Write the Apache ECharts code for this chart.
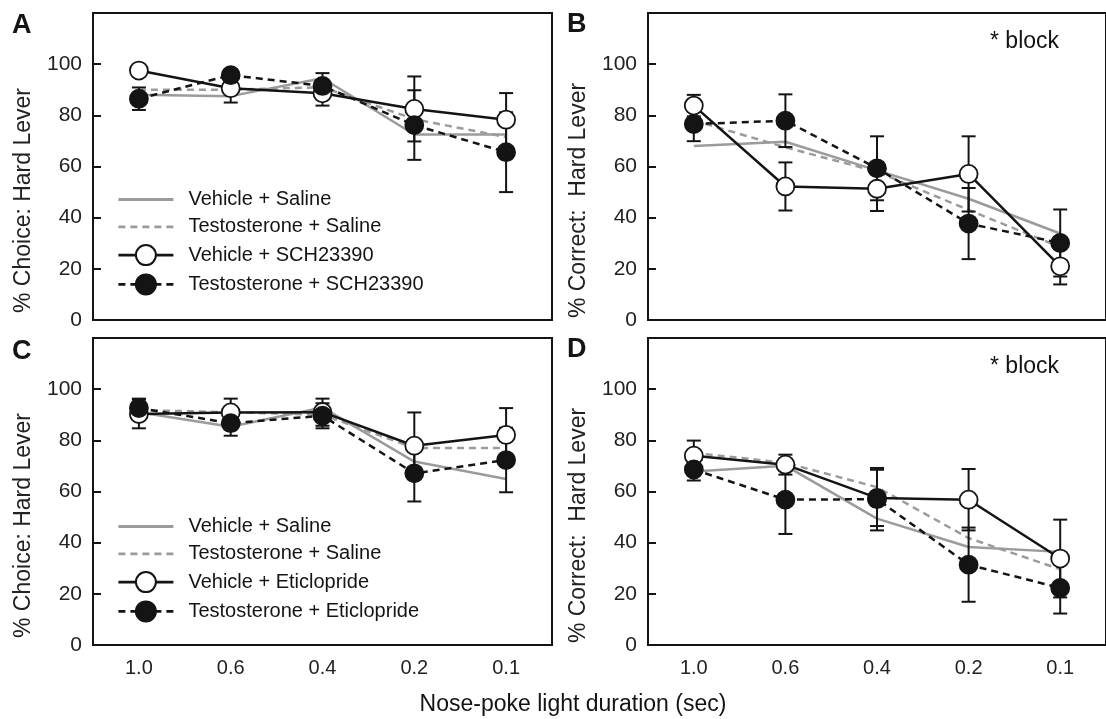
<!DOCTYPE html>
<html><head><meta charset="utf-8">
<script src="https://cdn.jsdelivr.net/npm/echarts@6/dist/echarts.min.js"></script>
<style>html,body{margin:0;padding:0;background:#fff}#c{width:1106px;height:719px}</style>
</head><body><div id="c"></div>
<script>
// ---- categories / tick labels ----
const categories = ['1.0', '0.6', '0.4', '0.2', '0.1'];
const yTicks = [0, 20, 40, 60, 80, 100];

// ---- Panel A: % Choice (SCH23390) ----
const aVehSaline   = [88, 87.5, 94.5, 72.5, 72.5];
const aTestoSaline = [90, 90, 91, 78.5, 71.5];
const aVehSCH      = [97.5, 90.6, 88.6, 82.5, 78.3];
const aTestoSCH    = [86.5, 95.7, 91.5, 76.2, 65.6];
const aVehSCHErr   = [2, 5.6, 4.8, 12.7, 10.4];
const aTestoSCHErr = [4.4, 2, 5, 13.6, 15.6];

// ---- Panel B: % Correct (SCH23390) ----
const bVehSaline   = [68, 69.7, 58.5, 47.4, 33.8];
const bTestoSaline = [78, 67.5, 58, 43, 28.5];
const bVehSCH      = [83.8, 52.2, 51.3, 57.1, 21];
const bTestoSCH    = [76.6, 77.9, 59.3, 37.7, 30.1];
const bVehSCHErr   = [4.2, 9.4, 8.7, 14.7, 7.1];
const bTestoSCHErr = [6.7, 10.3, 12.5, 13.9, 13.1];

// ---- Panel C: % Choice (Eticlopride) ----
const cVehSaline   = [91, 85.3, 92.8, 71.7, 64.9];
const cTestoSaline = [91.8, 91, 90, 77, 77];
const cVehEti      = [90.3, 90.9, 91, 77.9, 82.1];
const cTestoEti    = [92.6, 86.7, 89.6, 67.1, 72.3];
const cVehEtiErr   = [5.6, 5.4, 5.3, 13, 10.5];
const cTestoEtiErr = [3.7, 4.9, 4.9, 11, 12.6];

// ---- Panel D: % Correct (Eticlopride) ----
const dVehSaline   = [67.8, 70.1, 49.4, 38.3, 36.4];
const dTestoSaline = [75.1, 71.2, 61.7, 41.8, 29.6];
const dVehEti      = [74, 70.5, 57.5, 56.8, 33.8];
const dTestoEti    = [68.6, 56.8, 57, 31.4, 22.3];
const dVehEtiErr   = [5.9, 3.9, 11, 12, 15.2];
const dTestoEtiErr = [4.3, 13.4, 12.2, 14.5, 10];

const namesSCH = ['Vehicle + Saline', 'Testosterone + Saline', 'Vehicle + SCH23390', 'Testosterone + SCH23390'];
const namesEti = ['Vehicle + Saline', 'Testosterone + Saline', 'Vehicle + Eticlopride', 'Testosterone + Eticlopride'];

const FONT = '"Liberation Sans", Arial, Helvetica, sans-serif';
const INK = '#141414';
const GRAY = '#9b9b9b';

const grids = [
  {left: 93, top: 13, width: 459, height: 307},
  {left: 648, top: 13, width: 458, height: 307},
  {left: 93, top: 338, width: 459, height: 307},
  {left: 648, top: 338, width: 458, height: 307}
];

function errSeries(gi, vals, errs) {
  return {
    type: 'custom', xAxisIndex: gi, yAxisIndex: gi, z: 3, silent: true,
    data: vals.map((v, i) => [i, v, errs[i]]),
    encode: {x: 0, y: 1},
    renderItem: (params, api) => {
      const i = api.value(0), v = api.value(1), e = api.value(2);
      const t = api.coord([i, v + e]), b = api.coord([i, v - e]);
      const hw = 7;
      const st = {stroke: INK, lineWidth: 2};
      return {type: 'group', children: [
        {type: 'line', shape: {x1: t[0], y1: t[1], x2: b[0], y2: b[1]}, style: st},
        {type: 'line', shape: {x1: t[0] - hw, y1: t[1], x2: t[0] + hw, y2: t[1]}, style: st},
        {type: 'line', shape: {x1: b[0] - hw, y1: b[1], x2: b[0] + hw, y2: b[1]}, style: st}
      ]};
    }
  };
}

function panelSeries(gi, names, vs, ts, vd, td, vdErr, tdErr) {
  const base = {type: 'line', xAxisIndex: gi, yAxisIndex: gi, animation: false};
  return [
    Object.assign({}, base, {name: names[0], data: vs, symbol: 'none', z: 2,
      lineStyle: {color: GRAY, width: 2.5, type: 'solid'}, itemStyle: {color: GRAY}}),
    Object.assign({}, base, {name: names[1], data: ts, symbol: 'none', z: 2,
      lineStyle: {color: GRAY, width: 2.5, type: [7, 5]}, itemStyle: {color: GRAY}}),
    errSeries(gi, vd, vdErr),
    errSeries(gi, td, tdErr),
    Object.assign({}, base, {name: names[2], data: vd, symbol: 'circle', symbolSize: 18, z: 4,
      lineStyle: {color: INK, width: 2.5}, itemStyle: {color: '#fff', borderColor: INK, borderWidth: 1.8}}),
    Object.assign({}, base, {name: names[3], data: td, symbol: 'circle', symbolSize: 18, z: 5,
      lineStyle: {color: INK, width: 2.5, type: [7, 5]}, itemStyle: {color: INK, borderColor: INK, borderWidth: 1.8}})
  ];
}

const series = [].concat(
  panelSeries(0, namesSCH, aVehSaline, aTestoSaline, aVehSCH, aTestoSCH, aVehSCHErr, aTestoSCHErr),
  panelSeries(1, namesSCH, bVehSaline, bTestoSaline, bVehSCH, bTestoSCH, bVehSCHErr, bTestoSCHErr),
  panelSeries(2, namesEti, cVehSaline, cTestoSaline, cVehEti, cTestoEti, cVehEtiErr, cTestoEtiErr),
  panelSeries(3, namesEti, dVehSaline, dTestoSaline, dVehEti, dTestoEti, dVehEtiErr, dTestoEtiErr)
);

const hiddenSymbol = {color: 'rgba(0,0,0,0)', borderColor: 'rgba(0,0,0,0)', borderWidth: 0};
function legendData(names) {
  return names.map((n, i) => (i < 2 ? {name: n, itemStyle: hiddenSymbol} : {name: n}));
}

const legendBase = {
  orient: 'vertical', left: 117, padding: 0, itemWidth: 55, itemHeight: 25, itemGap: 7.3,
  selectedMode: false,
  lineStyle: {width: 2.8},
  textStyle: {fontSize: 20, fontFamily: FONT, color: INK, padding: [0, 0, 0, 10]}
};

const option = {
  backgroundColor: '#fff',
  animation: false,
  textStyle: {fontFamily: FONT},
  grid: grids.map(g => Object.assign({show: true, borderColor: INK, borderWidth: 2, backgroundColor: 'transparent'}, g)),
  xAxis: grids.map((g, i) => ({
    type: 'category', gridIndex: i, data: categories, boundaryGap: true,
    axisLine: {lineStyle: {color: INK, width: 2}},
    axisTick: {inside: true, alignWithLabel: true, length: 9, lineStyle: {color: INK, width: 2}},
    axisLabel: {show: i >= 2, fontSize: 20, margin: 13, color: '#222', fontFamily: FONT},
    splitLine: {show: false}
  })),
  yAxis: grids.map((g, i) => ({
    type: 'value', gridIndex: i, min: 0, max: 120, interval: 20,
    name: i % 2 ? '% Correct:  Hard Lever' : '% Choice: Hard Lever',
    nameLocation: 'middle', nameRotate: 90, nameGap: 58,
    nameTextStyle: {fontSize: 23, fontFamily: FONT, color: '#222', padding: [0, 68, 0, 0]},
    axisLine: {show: true, lineStyle: {color: INK, width: 2}},
    axisTick: {show: true, inside: true, length: 8, lineStyle: {color: INK, width: 2}},
    axisLabel: {fontSize: 21, margin: 11, color: '#222', fontFamily: FONT,
      formatter: v => (yTicks.indexOf(v) >= 0 ? String(v) : '')},
    splitLine: {show: false}
  })),
  legend: [
    Object.assign({}, legendBase, {top: 189.5, data: legendData(namesSCH)}),
    Object.assign({}, legendBase, {top: 516.5, data: legendData(namesEti)})
  ],
  graphic: [
    {type: 'text', x: 12, y: 26, style: {text: 'A', font: 'bold 27px ' + FONT, fill: INK, verticalAlign: 'middle'}},
    {type: 'text', x: 567, y: 25, style: {text: 'B', font: 'bold 27px ' + FONT, fill: INK, verticalAlign: 'middle'}},
    {type: 'text', x: 12, y: 352, style: {text: 'C', font: 'bold 27px ' + FONT, fill: INK, verticalAlign: 'middle'}},
    {type: 'text', x: 567, y: 350, style: {text: 'D', font: 'bold 27px ' + FONT, fill: INK, verticalAlign: 'middle'}},
    {type: 'text', x: 990, y: 42, style: {text: '* block', font: '23px ' + FONT, fill: INK, verticalAlign: 'middle'}},
    {type: 'text', x: 990, y: 367, style: {text: '* block', font: '23px ' + FONT, fill: INK, verticalAlign: 'middle'}},
    {type: 'text', x: 573, y: 705, style: {text: 'Nose-poke light duration (sec)', font: '23px ' + FONT, fill: INK, align: 'center', verticalAlign: 'middle'}}
  ],
  series: series
};

const chart = echarts.init(document.getElementById('c'), null, {renderer: 'canvas'});
chart.setOption(option);
</script>
</body></html>
